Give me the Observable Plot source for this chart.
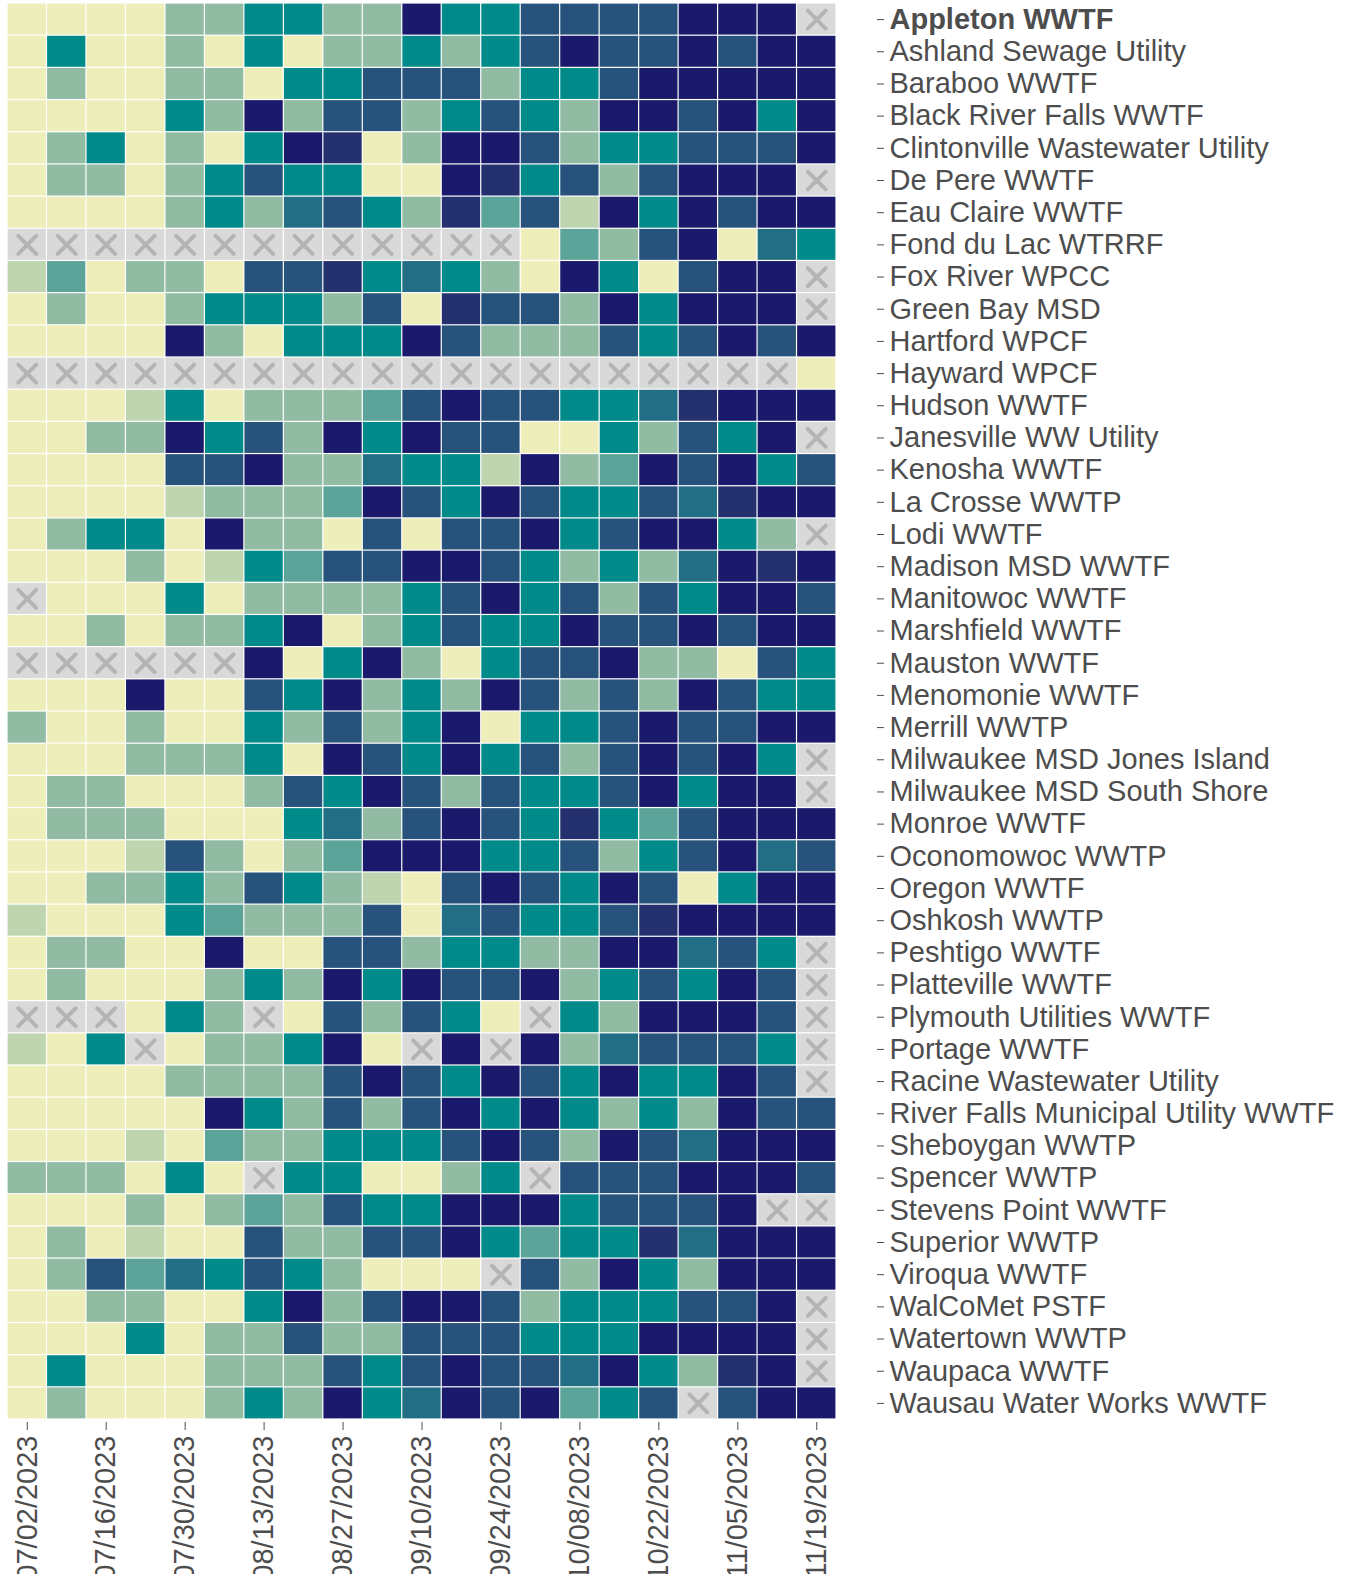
<!DOCTYPE html>
<html>
<head>
<meta charset="utf-8">
<script src="https://cdn.jsdelivr.net/npm/d3@7"></script>
<script src="https://cdn.jsdelivr.net/npm/@observablehq/plot@0.6"></script>
<style>
  html, body { margin: 0; padding: 0; background: #ffffff; }
  #chart svg { display: block; }
</style>
</head>
<body>
<div id="chart"></div>
<script>
// Sites (rows, top to bottom)
const sites = [
  "Appleton WWTF", "Ashland Sewage Utility", "Baraboo WWTF", "Black River Falls WWTF",
  "Clintonville Wastewater Utility", "De Pere WWTF", "Eau Claire WWTF", "Fond du Lac WTRRF",
  "Fox River WPCC", "Green Bay MSD", "Hartford WPCF", "Hayward WPCF", "Hudson WWTF",
  "Janesville WW Utility", "Kenosha WWTF", "La Crosse WWTP", "Lodi WWTF", "Madison MSD WWTF",
  "Manitowoc WWTF", "Marshfield WWTF", "Mauston WWTF", "Menomonie WWTF", "Merrill WWTP",
  "Milwaukee MSD Jones Island", "Milwaukee MSD South Shore", "Monroe WWTF", "Oconomowoc WWTP",
  "Oregon WWTF", "Oshkosh WWTP", "Peshtigo WWTF", "Platteville WWTF", "Plymouth Utilities WWTF",
  "Portage WWTF", "Racine Wastewater Utility", "River Falls Municipal Utility WWTF",
  "Sheboygan WWTP", "Spencer WWTP", "Stevens Point WWTF", "Superior WWTP", "Viroqua WWTF",
  "WalCoMet PSTF", "Watertown WWTP", "Waupaca WWTF", "Wausau Water Works WWTF"
];

// Weeks (columns, left to right)
const weeks = [
  "07/02/2023", "07/09/2023", "07/16/2023", "07/23/2023", "07/30/2023", "08/06/2023",
  "08/13/2023", "08/20/2023", "08/27/2023", "09/03/2023", "09/10/2023", "09/17/2023",
  "09/24/2023", "10/01/2023", "10/08/2023", "10/15/2023", "10/22/2023", "10/29/2023",
  "11/05/2023", "11/12/2023", "11/19/2023"
];

// Tick labels shown on the x axis
const weekTicks = [
  "07/02/2023", "07/16/2023", "07/30/2023", "08/13/2023", "08/27/2023", "09/10/2023",
  "09/24/2023", "10/08/2023", "10/22/2023", "11/05/2023", "11/19/2023"
];

// Level classes 0 (lowest) .. 8 (highest)
const levelClasses = [0, 1, 2, 3, 4, 5, 6, 7, 8];
const levelColors = ["#eeeebb", "#bfd5b0", "#92bba4", "#5ca49a", "#008b8a",
                     "#226e84", "#27527c", "#25316f", "#1a196b"];

// Level class per site per week (null = no data)
const levels = [
  [0,0,0,0,2,2,4,4,2,2,8,4,4,6,6,6,6,8,8,8,null],
  [0,4,0,0,2,0,4,0,2,2,4,2,4,6,8,6,6,8,6,8,8],
  [0,2,0,0,2,2,0,4,4,6,6,6,2,4,4,6,8,8,8,8,8],
  [0,0,0,0,4,2,8,2,6,6,2,4,6,4,2,8,8,6,8,4,8],
  [0,2,4,0,2,0,4,8,7,0,2,8,8,6,2,4,4,6,6,6,8],
  [0,2,2,0,2,4,6,4,4,0,0,8,7,4,6,2,6,8,8,8,null],
  [0,0,0,0,2,4,2,5,6,4,2,7,3,6,1,8,4,8,6,8,8],
  [null,null,null,null,null,null,null,null,null,null,null,null,null,0,3,2,6,8,0,5,4],
  [1,3,0,2,2,0,6,6,7,4,5,4,2,0,8,4,0,6,8,8,null],
  [0,2,0,0,2,4,4,4,2,6,0,7,6,6,2,8,4,8,8,8,null],
  [0,0,0,0,8,2,0,4,4,4,8,6,2,2,2,6,4,6,8,6,8],
  [null,null,null,null,null,null,null,null,null,null,null,null,null,null,null,null,null,null,null,null,0],
  [0,0,0,1,4,0,2,2,2,3,6,8,6,6,4,4,5,7,8,8,8],
  [0,0,2,2,8,4,6,2,8,4,8,6,6,0,0,4,2,6,4,8,null],
  [0,0,0,0,6,6,8,2,2,5,4,4,1,8,2,3,8,6,8,4,6],
  [0,0,0,0,1,2,2,2,3,8,6,4,8,6,4,4,6,5,7,8,8],
  [0,2,4,4,0,8,2,2,0,6,0,6,6,8,4,6,8,8,4,2,null],
  [0,0,0,2,0,1,4,3,6,6,8,8,6,4,2,4,2,5,8,7,8],
  [null,0,0,0,4,0,2,2,2,2,4,6,8,4,6,2,6,4,8,8,6],
  [0,0,2,0,2,2,4,8,0,2,4,6,4,4,8,6,6,8,6,8,8],
  [null,null,null,null,null,null,8,0,4,8,2,0,4,6,6,8,2,2,0,6,4],
  [0,0,0,8,0,0,6,4,8,2,4,2,8,6,2,6,2,8,6,4,4],
  [2,0,0,2,0,0,4,2,6,2,4,8,0,4,4,6,8,6,6,8,8],
  [0,0,0,2,2,2,4,0,8,6,4,8,4,6,2,6,8,6,8,4,null],
  [0,2,2,0,0,0,2,6,4,8,6,2,6,4,4,6,8,4,8,8,null],
  [0,2,2,2,0,0,0,4,5,2,6,8,6,4,7,4,3,6,8,8,8],
  [0,0,0,1,6,2,0,2,3,8,8,8,4,4,6,2,4,6,8,5,6],
  [0,0,2,2,4,2,6,4,2,1,0,6,8,6,4,8,6,0,4,8,8],
  [1,0,0,0,4,3,2,2,2,6,0,5,6,4,4,6,7,8,8,8,8],
  [0,2,2,0,0,8,0,0,6,6,2,4,4,2,2,8,8,5,6,4,null],
  [0,2,0,0,0,2,4,2,8,4,8,6,6,8,2,4,6,4,8,6,null],
  [null,null,null,0,4,2,null,0,6,2,6,4,0,null,4,2,8,8,8,6,null],
  [1,0,4,null,0,2,2,4,8,0,null,8,null,8,2,5,6,6,6,4,null],
  [0,0,0,0,2,2,2,2,6,8,6,4,8,6,4,8,4,4,8,6,null],
  [0,0,0,0,0,8,4,2,6,2,6,8,4,8,4,2,4,2,8,6,6],
  [0,0,0,1,0,3,2,2,4,4,4,6,8,6,2,8,6,5,8,8,8],
  [2,2,2,0,4,0,null,4,4,0,0,2,4,null,6,6,6,8,8,8,6],
  [0,0,0,2,0,2,3,2,6,4,4,8,8,8,4,6,6,6,8,null,null],
  [0,2,0,1,0,0,6,2,2,6,6,8,4,3,4,4,7,5,8,8,8],
  [0,2,6,3,5,4,6,4,2,0,0,0,null,6,2,8,4,2,8,8,8],
  [0,0,2,2,0,0,4,8,2,6,8,8,6,2,4,4,4,6,6,8,null],
  [0,0,0,4,0,2,2,6,2,2,6,6,6,4,4,4,8,8,8,8,null],
  [0,4,0,0,0,2,2,2,6,4,6,8,6,6,5,8,4,2,7,8,null],
  [0,2,0,0,0,2,4,2,8,4,5,8,6,8,3,4,6,null,6,8,8]
];

// Build a tidy table for the library
const table = [];
sites.forEach((site, i) => {
  weeks.forEach((week, j) => {
    table.push({site, week, level: levels[i][j]});
  });
});
const present = table.filter(d => d.level !== null);
const missing = table.filter(d => d.level === null);

const textColor = "#4d4d4d";

const chart = Plot.plot({
  width: 1356,
  height: 1574,
  marginLeft: 7,
  marginTop: 3,
  marginRight: 520,
  marginBottom: 155,
  style: {fontFamily: "'Liberation Sans', Arial, Helvetica, sans-serif", background: "#ffffff"},
  x: {type: "band", domain: weeks, padding: 0, round: false, axis: null, range: [7, 836]},
  y: {type: "band", domain: sites, padding: 0, round: false, axis: null, range: [3, 1419]},
  color: {type: "ordinal", domain: levelClasses, range: levelColors},
  marks: [
    Plot.cell(present, {x: "week", y: "site", fill: "level", inset: 0.6}),
    Plot.cell(missing, {x: "week", y: "site", fill: "#d9d9d9", inset: 0.6}),
    Plot.dot(missing, {x: "week", y: "site", symbol: "times", r: 8.2, stroke: "#b4b4b4",
                       strokeWidth: 4, strokeLinecap: "round"}),
    Plot.axisY({anchor: "right", ticks: sites.slice(1), tickSize: 7, tickPadding: 6, dx: 40,
                fontSize: 29, label: null, color: textColor, textAnchor: "start"}),
    Plot.axisY({anchor: "right", ticks: sites.slice(0, 1), tickSize: 7, tickPadding: 6, dx: 40,
                fontSize: 29, label: null, color: textColor, textAnchor: "start", fontWeight: "bold"}),
    Plot.axisX({anchor: "bottom", ticks: weekTicks, tickRotate: -90, tickSize: 8, tickPadding: 5,
                dy: 3, fontSize: 29, label: null, color: textColor})
  ]
});

document.getElementById("chart").appendChild(chart);
</script>
</body>
</html>
